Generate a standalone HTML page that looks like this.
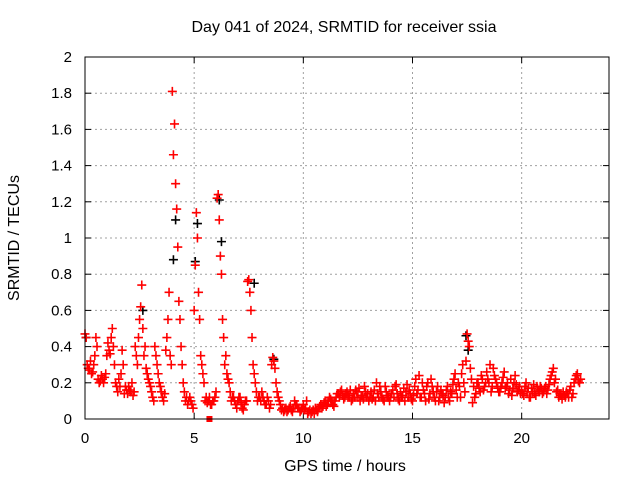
<!DOCTYPE html>
<html><head><meta charset="utf-8"><style>
body{margin:0;background:#fff}
svg{display:block;font-family:"Liberation Sans",sans-serif}
</style></head><body>
<svg id="chart" width="640" height="480">
<rect width="640" height="480" fill="#fff"/>
<text x="344" y="32" font-size="16" text-anchor="middle">Day 041 of 2024, SRMTID for receiver ssia</text>
<text x="345" y="471" font-size="16" text-anchor="middle">GPS time / hours</text>
<text x="19" y="238" font-size="16" text-anchor="middle" transform="rotate(-90 19 238)">SRMTID / TECUs</text>
<g id="grid"></g><g id="ticks"></g><g id="marks"></g>
<rect x="85" y="57" width="524" height="362" fill="none" stroke="#000" stroke-width="1"/>
</svg>
<script>
const xTicks=[0,5,10,15,20];
const yTicks=[0,0.2,0.4,0.6,0.8,1,1.2,1.4,1.6,1.8,2];
const yTickLabels=["0","0.2","0.4","0.6","0.8","1","1.2","1.4","1.6","1.8","2"];
const tStart=0, tStep=0.1, tStart2=0.05;
const srmtid=[
0.47,0.30,0.27,0.25,0.30,0.45,0.22,0.21,0.22,0.23,
0.35,0.38,0.45,0.40,0.20,0.15,0.18,0.38,0.14,0.16,
0.18,0.15,0.13,0.40,0.30,0.55,0.74,0.35,0.28,0.22,
0.18,0.12,0.40,0.30,0.20,0.15,0.10,0.38,0.55,0.35,
1.81,1.63,1.16,0.65,0.40,0.20,0.10,0.08,0.12,0.08,
0.60,1.14,0.70,0.35,0.25,0.10,0.09,0.12,0.08,0.10,
0.15,1.24,0.90,0.55,0.30,0.25,0.20,0.10,0.12,0.08,
0.10,0.12,0.06,0.08,0.10,0.77,0.60,0.30,0.20,0.10,
0.12,0.15,0.10,0.08,0.10,0.08,0.34,0.28,0.15,0.10,
0.05,0.04,0.06,0.05,0.07,0.04,0.10,0.08,0.06,0.05,
0.08,0.06,0.03,0.05,0.04,0.03,0.05,0.06,0.08,0.07,
0.10,0.08,0.12,0.10,0.07,0.12,0.14,0.15,0.13,0.12,
0.15,0.12,0.10,0.14,0.16,0.12,0.10,0.13,0.18,0.12,
0.10,0.15,0.12,0.10,0.14,0.18,0.12,0.10,0.15,0.12,
0.12,0.16,0.18,0.14,0.10,0.12,0.17,0.15,0.12,0.14,
0.10,0.18,0.14,0.24,0.12,0.16,0.10,0.20,0.14,0.18,
0.12,0.15,0.10,0.16,0.13,0.12,0.18,0.10,0.14,0.22,
0.16,0.20,0.12,0.30,0.15,0.47,0.40,0.22,0.18,0.14,
0.20,0.15,0.22,0.18,0.26,0.20,0.15,0.28,0.22,0.17,
0.15,0.20,0.26,0.18,0.14,0.22,0.17,0.24,0.15,0.18,
0.16,0.13,0.20,0.17,0.12,0.15,0.14,0.18,0.15,0.17,
0.15,0.18,0.16,0.22,0.26,0.20,0.15,0.12,0.13,0.15,
0.12,0.14,0.16,0.12,0.20,0.24,0.21,0.22];
const srmtid2=[
0.45,0.28,0.32,0.26,0.35,0.40,0.20,0.24,0.20,0.25,
0.42,0.36,0.50,0.30,0.18,0.22,0.25,0.30,0.18,0.14,
0.16,0.20,0.15,0.35,0.45,0.62,0.50,0.40,0.25,0.20,
0.15,0.10,0.35,0.25,0.18,0.12,0.14,0.45,0.70,0.30,
1.46,1.30,0.95,0.55,0.30,0.15,0.12,0.10,0.10,0.06,
0.85,1.00,0.55,0.30,0.20,0.12,0.10,0.08,0.10,0.12,
1.22,1.10,0.80,0.45,0.35,0.22,0.15,0.12,0.10,0.06,
0.12,0.09,0.05,0.10,0.76,0.70,0.45,0.25,0.15,0.12,
0.10,0.12,0.08,0.12,0.06,0.30,0.32,0.20,0.12,0.08,
0.06,0.05,0.04,0.06,0.05,0.06,0.08,0.06,0.04,0.06,
0.05,0.10,0.04,0.03,0.05,0.06,0.04,0.07,0.06,0.09,
0.07,0.10,0.11,0.08,0.10,0.14,0.12,0.16,0.11,0.14,
0.13,0.16,0.11,0.12,0.15,0.17,0.13,0.11,0.15,0.14,
0.12,0.11,0.16,0.20,0.12,0.15,0.11,0.18,0.13,0.10,
0.14,0.12,0.19,0.11,0.15,0.13,0.10,0.19,0.16,0.11,
0.13,0.22,0.16,0.12,0.20,0.14,0.18,0.11,0.22,0.15,
0.10,0.18,0.12,0.14,0.09,0.16,0.12,0.15,0.19,0.25,
0.12,0.18,0.25,0.20,0.32,0.43,0.28,0.09,0.12,0.20,
0.17,0.24,0.16,0.20,0.22,0.30,0.18,0.24,0.20,0.15,
0.18,0.23,0.17,0.20,0.16,0.13,0.20,0.19,0.16,0.14,
0.14,0.18,0.15,0.12,0.17,0.19,0.13,0.16,0.18,0.14,
0.17,0.14,0.19,0.24,0.28,0.22,0.16,0.14,0.11,0.13,
0.15,0.12,0.18,0.14,0.22,0.25,0.20];
const blackTimes=[0.05,2.65,4.05,4.15,5.05,5.15,6.15,6.25,7.75,8.65,17.45,17.55];
const blackValues=[0.45,0.60,0.88,1.10,0.87,1.08,1.21,0.98,0.75,0.33,0.46,0.38];
const outlierTimes=[5.7];
const outlierValues=[0.0];

const X0=85,X1=609,Y0=419,Y1=57,XMAX=24,YMAX=2;
const xs=t=>X0+(X1-X0)*t/XMAX;
const ys=v=>Y0-(Y0-Y1)*v/YMAX;
const NS="http://www.w3.org/2000/svg";
function mk(tag,attrs,parent){const e=document.createElementNS(NS,tag);for(const k in attrs)e.setAttribute(k,attrs[k]);parent.appendChild(e);return e;}
const grid=document.getElementById('grid'),ticks=document.getElementById('ticks'),marks=document.getElementById('marks');
xTicks.forEach((t,i)=>{
  const x=xs(t);
  if(i>0){const g=mk('line',{x1:x,x2:x,y1:Y1,y2:Y0,stroke:'#a0a0a0','stroke-dasharray':'2,3'},grid);
  
  }
  const l=mk('text',{x:x,y:443,'font-size':15,'text-anchor':'middle'},ticks);l.textContent=t;
  
  
  mk('line',{x1:x,x2:x,y1:Y0,y2:Y0-6,stroke:'#000'},ticks);
  mk('line',{x1:x,x2:x,y1:Y1,y2:Y1+6,stroke:'#000'},ticks);
});
yTicks.forEach((v,i)=>{
  const y=ys(v);
  if(i>0&&i<yTicks.length-1){const g=mk('line',{x1:X0,x2:X1,y1:y,y2:y,stroke:'#a0a0a0','stroke-dasharray':'2,3'},grid);
  
  }
  const l=mk('text',{x:72,y:y+5,'font-size':15,'text-anchor':'end'},ticks);l.textContent=yTickLabels[i];
  
  
  mk('line',{x1:X0,x2:X0+6,y1:y,y2:y,stroke:'#000'},ticks);
  mk('line',{x1:X1,x2:X1-6,y1:y,y2:y,stroke:'#000'},ticks);
});
function plus(x,y,c,name){
  const p=mk('path',{d:`M${x-4.5},${y}H${x+4.5}M${x},${y-4.5}V${y+4.5}`,stroke:c,'stroke-width':1.6,fill:'none'},marks);
  
  
}
blackTimes.forEach((t,i)=>plus(xs(t),ys(blackValues[i]),'#000','black-point'));
srmtid.forEach((v,i)=>plus(xs(tStart+i*tStep),ys(v),'#f00','srmtid-point'));
srmtid2.forEach((v,i)=>plus(xs(tStart2+i*tStep),ys(v),'#f00','srmtid-point'));
outlierTimes.forEach((t,i)=>{
  const r=mk('rect',{x:xs(t)-3,y:ys(outlierValues[i])-3,width:6,height:6,fill:'#f00'},marks);
  
  
});
</script>
</body></html>
